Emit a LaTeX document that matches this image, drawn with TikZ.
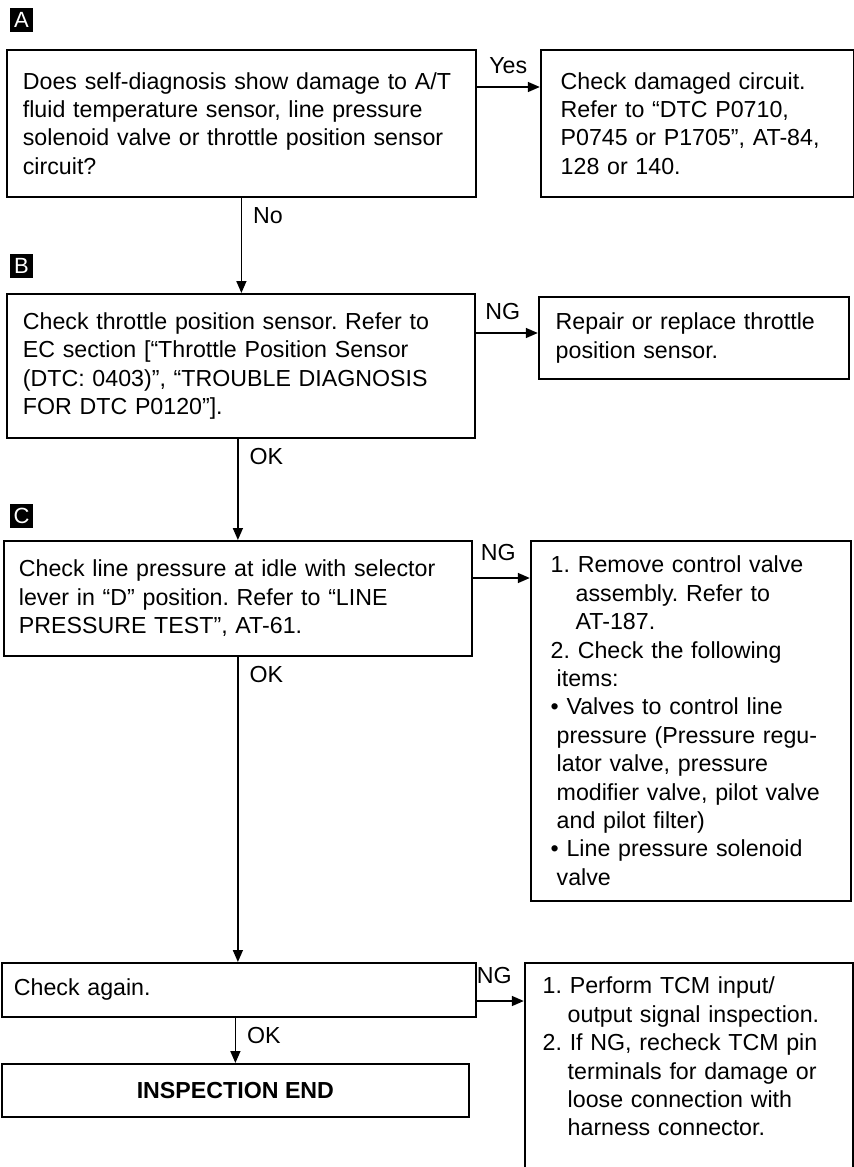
\documentclass[tikz,border=0pt]{standalone}
\usepackage{fontspec}
\setmainfont{Liberation Sans}
\usetikzlibrary{positioning,arrows.meta}
\frenchspacing

\begin{document}
\begin{tikzpicture}[>={Triangle[length=6pt,width=5pt]},
  font=\fontsize{11.6pt}{14.2pt}\selectfont,
  chart/.style={draw, rectangle, line width=0.9pt, align=left, inner ysep=0pt, anchor=north west},
  flow/.style={->, line width=0.75pt},
  tag/.style={fill=black, text=white, inner sep=0pt, minimum width=11.5pt, minimum height=12pt, font=\fontsize{11pt}{12pt}\selectfont},
  answer/.style={inner sep=0pt}]
  \useasboundingbox (0,0) rectangle (426.5pt,-583.5pt);

  % step A
  \node[tag] (tagA) at (10.75pt,-10pt) {A};
  \node[chart, text width=218.5pt, inner xsep=8pt, minimum height=73.5pt] (selfdiag) at (3pt,-24.5pt)
    {Does self-diagnosis show damage to A/T\\ fluid temperature sensor, line pressure\\ solenoid valve or throttle position sensor\\ circuit?};
  \node[chart, text width=136.5pt, inner xsep=10pt, minimum height=73.5pt, below right=0pt and 31.5pt of selfdiag.north east] (damaged)
    {Check damaged circuit.\\ Refer to “DTC P0710,\\ P0745 or P1705”, AT-84,\\ 128 or 140.};

  % step B
  \node[tag] (tagB) at (10.75pt,-133pt) {B};
  \node[chart, text width=218pt, inner xsep=8pt, minimum height=72pt] (tpscheck) at (3pt,-146.5pt)
    {Check throttle position sensor. Refer to\\ EC section [“Throttle Position Sensor\\ (DTC: 0403)”, “TROUBLE DIAGNOSIS\\ FOR DTC P0120”].};
  \node[chart, text width=138pt, inner xsep=8.5pt, minimum height=41pt, below right=1.5pt and 31pt of tpscheck.north east] (tpsrepair)
    {Repair or replace throttle\\ position sensor.};

  % step C
  \node[tag] (tagC) at (10.75pt,-258pt) {C};
  \node[chart, text width=219pt, inner xsep=7.5pt, minimum height=57.5pt] (linepress) at (1.5pt,-270pt)
    {Check line pressure at idle with selector\\ lever in “D” position. Refer to “LINE\\ PRESSURE TEST”, AT-61.};
  \node[chart, text width=140pt, inner xsep=10pt, minimum height=180pt, below right=0pt and 28.5pt of linepress.north east] (valvebody)
    {1. Remove control valve\\
     \hspace*{12.5pt}assembly. Refer to\\
     \hspace*{12.5pt}AT-187.\\
     2. Check the following\\
     \hspace*{3pt}items:\\
     \textbullet\ Valves to control line\\
     \hspace*{3pt}pressure (Pressure regu-\\
     \hspace*{3pt}lator valve, pressure\\
     \hspace*{3pt}modifier valve, pilot valve\\
     \hspace*{3pt}and pilot filter)\\
     \textbullet\ Line pressure solenoid\\
     \hspace*{3pt}valve};

  % check again
  \node[chart, text width=225pt, inner xsep=6pt, minimum height=27pt] (recheck) at (0.5pt,-481pt)
    {Check again.};
  \node[chart, text width=146pt, inner xsep=9pt, inner ysep=7pt, text height=8.5pt, text depth=100pt, below right=0pt and 23.5pt of recheck.north east] (tcmcheck)
    {1. Perform TCM input/\\
     \hspace*{12.5pt}output signal inspection.\\
     2. If NG, recheck TCM pin\\
     \hspace*{12.5pt}terminals for damage or\\
     \hspace*{12.5pt}loose connection with\\
     \hspace*{12.5pt}harness connector.};
  \node[chart, align=center, minimum width=233.5pt, minimum height=26.5pt] (inspend) at (0.5pt,-531.5pt)
    {\bfseries INSPECTION END};

  % connectors
  \coordinate (yesout) at ([yshift=-19pt]selfdiag.north east);
  \coordinate (ngB) at ([yshift=-20pt]tpscheck.north east);
  \coordinate (ngC) at ([yshift=-19pt]linepress.north east);
  \coordinate (ngD) at ([yshift=-19.5pt]recheck.north east);

  \draw[flow] (yesout) -- (yesout -| damaged.west) node[midway, above=6.5pt, answer] {Yes};
  \draw[flow] (ngB) -- (ngB -| tpsrepair.west) node[midway, above=6.5pt, xshift=-2pt, answer] {NG};
  \draw[flow] (ngC) -- (ngC -| valvebody.west) node[midway, above=8.3pt, xshift=-1.5pt, answer] {NG};
  \draw[flow] (ngD) -- (ngD -| tcmcheck.west) node[midway, above=8.5pt, xshift=-3pt, answer] {NG};

  \draw[flow] (selfdiag.south) -- (selfdiag.south |- tpscheck.north)
    node[pos=0, anchor=north west, xshift=5.5pt, yshift=-4.5pt, answer] {No};
  \draw[flow] (linepress.north |- tpscheck.south) -- (linepress.north)
    node[pos=0, anchor=north west, xshift=5.5pt, yshift=-4.5pt, answer] {OK};
  \draw[flow] (linepress.south) -- (linepress.south |- recheck.north)
    node[pos=0, anchor=north west, xshift=5.5pt, yshift=-4.5pt, answer] {OK};
  \draw[flow] (inspend.north |- recheck.south) -- (inspend.north)
    node[pos=0, anchor=north west, xshift=5.5pt, yshift=-4.5pt, answer] {OK};
\end{tikzpicture}
\end{document}
